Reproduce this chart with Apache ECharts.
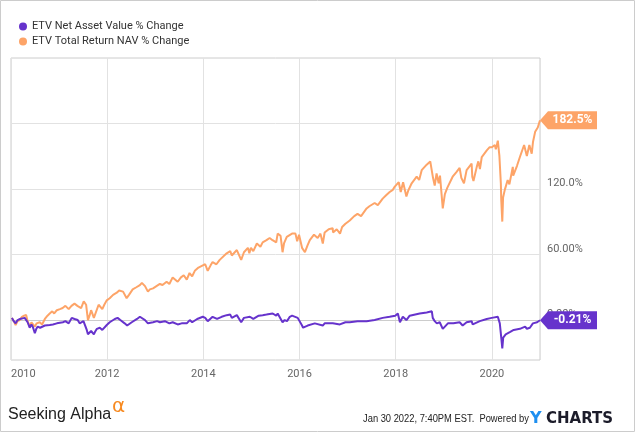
<!DOCTYPE html>
<html><head><meta charset="utf-8">
<script src="https://cdn.jsdelivr.net/npm/echarts@6/dist/echarts.min.js"></script>
<style>html,body{margin:0;padding:0;background:#fff}#c{width:635px;height:433px}</style>
</head><body><div id="c"></div>
<script>
const seriesNames = ['ETV Net Asset Value % Change', 'ETV Total Return NAV % Change'];
const navDates = [
 '2010-01-08','2010-01-22','2010-02-05','2010-02-20','2010-03-10','2010-04-15','2010-04-26','2010-05-07','2010-05-23','2010-06-05','2010-06-15','2010-07-01','2010-07-12','2010-07-23','2010-08-10','2010-08-25','2010-09-15','2010-10-22','2010-11-15','2010-12-15',
 '2011-01-30','2011-02-18','2011-03-15','2011-04-07','2011-04-28','2011-05-22','2011-06-06','2011-06-20','2011-07-05','2011-07-30','2011-08-08','2011-08-22','2011-09-01','2011-09-22','2011-09-30','2011-10-15','2011-11-06','2011-11-25','2011-12-29',
 '2012-01-20','2012-02-28','2012-03-20','2012-04-10','2012-05-13','2012-06-01','2012-07-06','2012-08-15','2012-09-06','2012-09-21','2012-10-15','2012-11-06','2012-11-21','2012-12-15',
 '2013-01-15','2013-02-05','2013-03-15','2013-04-18','2013-05-13','2013-06-20','2013-07-20','2013-08-28','2013-09-20','2013-10-08','2013-11-15','2013-12-28',
 '2014-01-15','2014-02-03','2014-03-12','2014-04-15','2014-05-20','2014-06-27','2014-07-24','2014-08-05','2014-09-12','2014-10-15','2014-11-05','2014-12-20',
 '2015-01-15','2015-02-25','2015-03-27','2015-04-25','2015-06-11','2015-07-08','2015-07-19','2015-08-25','2015-09-10','2015-09-28','2015-10-19','2015-11-05','2015-12-18',
 '2016-01-20','2016-01-28','2016-02-11','2016-03-03','2016-04-26','2016-06-26','2016-07-10','2016-09-10','2016-11-03','2016-12-15',
 '2017-01-17','2017-03-17','2017-05-25','2017-07-25','2017-09-24','2017-11-16','2017-12-28',
 '2018-01-17','2018-02-02','2018-02-09','2018-02-24','2018-03-23','2018-04-17','2018-07-02','2018-08-24','2018-10-02','2018-10-09','2018-10-24','2018-11-09','2018-12-01','2018-12-24',
 '2019-02-01','2019-03-15','2019-05-01','2019-05-24','2019-06-23','2019-07-31','2019-08-08','2019-08-25','2019-10-01','2019-11-23','2019-12-31',
 '2020-02-15','2020-03-01','2020-03-13','2020-03-20','2020-03-27','2020-04-15','2020-05-16','2020-06-15','2020-08-01','2020-09-10','2020-09-23','2020-10-16','2020-11-08','2020-12-10','2021-01-01'];
const navValues = [
 2,-1,-3,0,1,2,3,-2,-7,-4,-6,-12,-8,-6,-7,-8,-5,-4.5,-4,-3,
 -2,-1,-3,2,1,0,-3,-4,-1,-9,-13,-14,-10,-13,-11,-8,-7,-9,-4.5,
 -2,1,2,0,-3,-5,-2,1,3,3,0,-3,-2,-2,
 -1,-2,-1,-3,-2,-4,-3,-3,0,-2,1,3,
 2,-1,3,1,3,4.5,5,2,4.5,-2,2,3,
 1,4,4.5,5,6,4,6,-2,0,-1,3,4,2,
 -5,-7,-8,-5,-3,-5,-3,-3,-4,-2,
 -2,-1,-1,0,2,3,4,
 6,-2,-1,3,0,4,6,7,8,2,-1,-3,-2,-8,
 -3,-3,-2,-5,-2,-1,-4,-3,-1,1,2,
 3,-3,-17,-26,-16,-13,-11,-9,-8,-6,-8,-7,-3,-2,-0.21];
const trDates = [
 '2010-01-08','2010-01-22','2010-02-05','2010-02-20','2010-03-08','2010-03-25','2010-04-10','2010-04-26','2010-05-07','2010-05-23','2010-06-05','2010-06-15','2010-07-01','2010-07-15','2010-08-07','2010-08-25','2010-09-15','2010-10-05','2010-10-22','2010-11-10','2010-11-25','2010-12-15',
 '2011-01-07','2011-01-28','2011-02-18','2011-03-15','2011-04-05','2011-04-28','2011-05-20','2011-06-17','2011-07-07','2011-07-25','2011-08-08','2011-08-20','2011-09-01','2011-09-22','2011-10-05','2011-10-28','2011-11-25','2011-12-10','2011-12-29',
 '2012-01-20','2012-02-15','2012-03-14','2012-04-01','2012-05-01','2012-05-28','2012-06-15','2012-07-13','2012-08-10','2012-09-06','2012-09-21','2012-10-15','2012-11-06','2012-11-21','2012-12-15',
 '2013-01-10','2013-02-05','2013-02-25','2013-03-28','2013-04-18','2013-05-13','2013-06-20','2013-07-15','2013-08-05','2013-08-28','2013-09-18','2013-10-08','2013-10-28','2013-11-25','2013-12-06','2013-12-28',
 '2014-01-15','2014-02-03','2014-02-25','2014-03-12','2014-04-10','2014-05-05','2014-06-27','2014-07-24','2014-08-05','2014-09-12','2014-10-15','2014-11-05','2014-12-05','2014-12-16','2014-12-28',
 '2015-01-15','2015-02-11','2015-03-10','2015-03-27','2015-04-25','2015-05-19','2015-06-10','2015-07-08','2015-07-19','2015-08-10','2015-08-25','2015-09-05','2015-09-26','2015-11-05','2015-12-01','2015-12-14','2015-12-28',
 '2016-01-20','2016-02-11','2016-03-01','2016-03-19','2016-04-20','2016-05-18','2016-06-08','2016-06-26','2016-07-10','2016-08-10','2016-09-09','2016-09-12','2016-10-10','2016-11-04','2016-11-20','2016-12-15',
 '2017-01-17','2017-02-20','2017-03-17','2017-04-13','2017-05-25','2017-06-15','2017-07-25','2017-08-18','2017-09-24','2017-10-20','2017-11-16','2017-12-10','2017-12-25',
 '2018-01-24','2018-02-08','2018-02-26','2018-03-23','2018-04-05','2018-05-02','2018-06-09','2018-06-28','2018-07-17','2018-08-24','2018-09-20','2018-10-02','2018-10-11','2018-10-24','2018-11-07','2018-11-23','2018-12-03','2018-12-24',
 '2019-01-09','2019-01-28','2019-03-09','2019-04-05','2019-05-01','2019-05-14','2019-06-03','2019-06-23','2019-07-31','2019-08-05','2019-08-14','2019-09-08','2019-09-20','2019-10-02','2019-10-16','2019-11-23','2019-12-15',
 '2020-01-01','2020-01-23','2020-01-31','2020-02-15','2020-02-27','2020-03-09','2020-03-12','2020-03-20','2020-03-26','2020-04-08','2020-04-30','2020-05-13','2020-06-08','2020-06-11','2020-07-10','2020-08-01','2020-09-02','2020-09-23','2020-10-12','2020-10-30','2020-11-09','2020-11-25','2020-12-15','2021-01-01'];
const trValues = [
 2,-1,-4.6,-1,0,3,4,4.6,-1,-6,-2,-3,-6,-3,-2,-4,1,4,6,8,6,9,
 10,11,13,10,13,15,13,11,17,14,0,4,9,2,3,14,10,14,18,
 20,23,25,27,26,20,23,28,30,32,34,31,26,28,29,
 31,33,32,35,33,39,35,39,41,37,43,40,45,48,47,50,
 51,45,50,53,51,55,61,63,59,64,55,62,66,61,66,
 63,70,67,71,73,75,73,71,79,77,62,70,76,79,79,72,78,
 66,62,68,73,78,75,79,70,80,83,84,80,83,79,85,88,
 91,95,97,95,102,104,107,105,111,114,117,119,122,
 126,117,126,113,118,125,131,128,137,142,145,145,130,123,134,125,132,102,
 115,121,131,135,139,130,125,137,143,131,127,140,145,138,149,155,158,
 158,160,156,164,150,125,110,90,112,119,128,124,140,132,141,149,160,150,160,152,163,172,176,182.5];
const xTickYears = [2010, 2012, 2014, 2016, 2018, 2020];
const yTickValues = [0, 60, 120, 180];
const yTickLabels = ['0.00%', '60.00%', '120.0%', '180.0%'];
const endLabels = ['-0.21%', '182.5%'];
const colors = ['#6633cc', '#fda468'];

function toYear(s) {
  const d = Date.parse(s + 'T00:00:00Z');
  const y = new Date(d).getUTCFullYear();
  const a = Date.UTC(y, 0, 1), b = Date.UTC(y + 1, 0, 1);
  return y + (d - a) / (b - a);
}
function pairs(ds, vs) { return ds.map((d, i) => [toYear(d), vs[i]]); }

const tagPath = 'path://M0,9 L8,0 L57,0 L57,18 L8,18 Z';
function mkSeries(idx, data) {
  const last = data[data.length - 1];
  return {
    name: seriesNames[idx], type: 'line', data: data, showSymbol: false, symbol: 'none',
    lineStyle: { color: colors[idx], width: 2 }, itemStyle: { color: colors[idx] },
    z: idx === 0 ? 4 : 3,
    markPoint: {
      silent: true, symbol: tagPath, symbolSize: [57, 18], symbolOffset: [28.5, 0], symbolKeepAspect: false,
      itemStyle: { color: colors[idx] },
      label: { show: true, position: 'inside', offset: [4, 0], color: '#fff', fontWeight: 'bold', fontSize: 12, fontFamily: 'Roboto', formatter: endLabels[idx] },
      data: [{ coord: last, value: last[1] }]
    }
  };
}

const chart = echarts.init(document.getElementById('c'), null, { renderer: 'canvas' });
chart.setOption({
  animation: false,
  color: colors,
  textStyle: { fontFamily: 'Roboto' },
  grid: { left: 11, top: 58, right: 95, bottom: 73, show: true, borderColor: '#cccccc', borderWidth: 1, containLabel: false },
  legend: {
    left: 14, top: 16, orient: 'vertical', icon: 'circle', itemWidth: 8, itemHeight: 8, itemGap: 4,
    data: [seriesNames[0], seriesNames[1]],
    textStyle: { fontSize: 11, color: '#333', fontFamily: 'Roboto' }
  },
  xAxis: {
    type: 'value', min: 2010, max: 2021, interval: 2,
    axisLine: { show: true, lineStyle: { color: '#cccccc' } },
    axisTick: { show: false },
    splitLine: { show: true, lineStyle: { color: '#e2e2e2' } },
    axisLabel: {
      color: '#666', fontSize: 11, fontFamily: 'Roboto', margin: 9, showMaxLabel: false, alignMinLabel: 'left',
      formatter: v => (xTickYears.indexOf(Math.round(v)) >= 0 && Math.abs(v - Math.round(v)) < 1e-6) ? String(Math.round(v)) : ''
    }
  },
  yAxis: {
    type: 'value', position: 'right', min: -36.5, max: 239.5,
    axisLine: { show: false },
    axisTick: { show: false, customValues: yTickValues },
    splitLine: { show: true, lineStyle: { color: '#e2e2e2' } },
    axisLabel: {
      customValues: yTickValues, color: '#666', fontSize: 11, fontFamily: 'Roboto', margin: 7, verticalAlign: 'bottom',
      formatter: v => { const i = yTickValues.indexOf(v); return i >= 0 ? yTickLabels[i] : ''; }
    }
  },
  series: [mkSeries(0, pairs(navDates, navValues)), mkSeries(1, pairs(trDates, trValues))],
  graphic: [
    { type: 'rect', shape: { x: 0.5, y: 0.5, width: 634, height: 431 }, style: { fill: 'none', stroke: '#cccccc', lineWidth: 1 }, silent: true },
    { type: 'text', x: 8, y: 415, style: { text: 'Seeking Alpha', font: '16px "Liberation Sans", sans-serif', fill: '#222', verticalAlign: 'middle' } },
    { type: 'text', x: 112, y: 407, style: { text: 'α', font: '20px "DejaVu Sans", sans-serif', fill: '#f7891f', verticalAlign: 'middle' } },
    { type: 'text', x: 363, y: 419, scaleX: 0.85, scaleY: 1, originX: 0, originY: 0, style: { text: 'Jan 30 2022, 7:40PM EST.  Powered by', font: '11px "Liberation Sans", sans-serif', fill: '#222', verticalAlign: 'middle' } },
    { type: 'text', x: 530, y: 419, style: { text: 'Y', font: 'bold 16px "DejaVu Sans", sans-serif', fill: '#1e8ff0', verticalAlign: 'middle' } },
    { type: 'text', x: 546, y: 419, style: { text: 'CHARTS', font: 'bold 15px "DejaVu Sans", sans-serif', fill: '#1c1c2a', verticalAlign: 'middle' } }
  ]
});
</script></body></html>
